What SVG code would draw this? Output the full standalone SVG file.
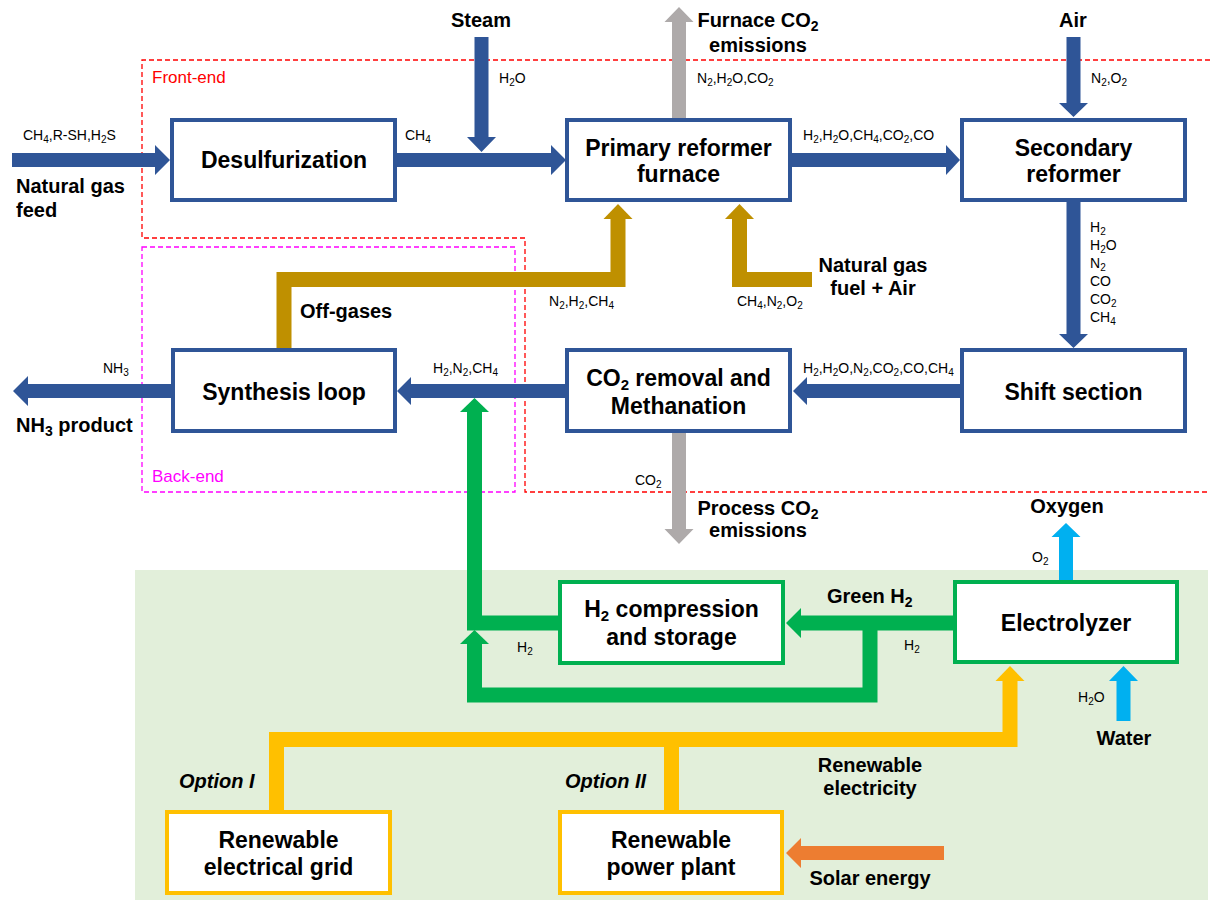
<svg xmlns="http://www.w3.org/2000/svg" width="1210" height="901" viewBox="0 0 1210 901">
<style>
text{font-family:"Liberation Sans",Arial,sans-serif;fill:#000}
.n{font-size:23px;font-weight:bold;text-anchor:middle}
.l{font-size:20px;font-weight:bold}
.m{text-anchor:middle}
.s{font-size:14px}
.it{font-style:italic}
.bb{fill:#fff;stroke:#2F5597;stroke-width:4}
.gb{fill:#fff;stroke:#00B050;stroke-width:4}
.yb{fill:#fff;stroke:#FFC000;stroke-width:4}
.blue{fill:#2F5597}
.gray{fill:#AEAAAA}
.gold{fill:#BF9000}
.goldl{fill:none;stroke:#BF9000;stroke-width:15;stroke-linejoin:miter}
.green{fill:#00B050}
.greenl{fill:none;stroke:#00B050;stroke-width:15;stroke-linejoin:miter}
.yel{fill:#FFC000}
.yell{fill:none;stroke:#FFC000;stroke-width:15;stroke-linejoin:miter}
.lb{fill:#00B0F0}
.or{fill:#ED7D31}
</style>
<rect width="1210" height="901" fill="#fff"/>
<rect x="135" y="570" width="1073" height="330" fill="#E2EFDA"/>
<g id="regions">
<path d="M1210,60 H142 V238 H525 V492 H1210" fill="none" stroke="#FF0000" stroke-width="1.3" stroke-dasharray="5,3"/>
<rect x="142" y="247" width="373" height="245" fill="none" stroke="#FF00FF" stroke-width="1.3" stroke-dasharray="5,3"/>
<text x="152" y="83" font-size="17" style="fill:#FF0000">Front-end</text>
<text x="152" y="482" font-size="17" style="fill:#FF00FF">Back-end</text>
</g>
<g id="connectors">
<polygon class="blue" points="12,153 155,153 155,145 170,160 155,175 155,167 12,167"/>
<polygon class="blue" points="397,153 551,153 551,145 566,160 551,175 551,167 397,167"/>
<polygon class="blue" points="792,153 946,153 946,145 960,160 946,175 946,167 792,167"/>
<polygon class="blue" points="474.5,37 488.5,37 488.5,137 496,137 481.5,152 467,137 474.5,137"/>
<polygon class="blue" points="1066.5,37 1080.5,37 1080.5,103 1088,103 1073.5,117 1059,103 1066.5,103"/>
<polygon class="blue" points="1066.5,202 1080.5,202 1080.5,334 1088,334 1073.5,348 1059,334 1066.5,334"/>
<polygon class="blue" points="960,384 807,384 807,377 793,391 807,405 807,398 960,398"/>
<polygon class="blue" points="566,384 411,384 411,377 397,391 411,405 411,398 566,398"/>
<polygon class="blue" points="171,384 28,384 28,376 13,391 28,406 28,398 171,398"/>
<polygon class="gray" points="672,118 686,118 686,22 693.5,22 679,7 664.5,22 672,22"/>
<polygon class="gray" points="672,433 686,433 686,529 693.5,529 679,544 664.5,529 672,529"/>
<polyline class="goldl" points="284,349 284,279.5 618,279.5 618,218"/>
<polygon class="gold" points="603.5,219 632.5,219 618,204"/>
<polyline class="goldl" points="812,279.5 739.5,279.5 739.5,218"/>
<polygon class="gold" points="725,219 754,219 739.5,204"/>
<polygon class="green" points="953,615.5 801,615.5 801,608 786,623 801,638 801,630.5 953,630.5"/>
<polyline class="greenl" points="558,623 474.5,623 474.5,411"/>
<polygon class="green" points="460,412 489,412 474.5,398"/>
<polyline class="greenl" points="870,623 870,695 474.5,695 474.5,643"/>
<polygon class="green" points="460,644 489,644 474.5,630"/>
<polyline class="yell" points="276.5,810 276.5,739.5 1010,739.5 1010,680"/>
<line x1="671.5" y1="739.5" x2="671.5" y2="810" stroke="#FFC000" stroke-width="15"/>
<polygon class="yel" points="995.5,681 1024.5,681 1010,666"/>
<polygon class="lb" points="1059,580 1073,580 1073,537 1080.5,537 1066,523 1051.5,537 1059,537"/>
<polygon class="lb" points="1116.5,721 1130.5,721 1130.5,681 1138,681 1123.5,666 1109,681 1116.5,681"/>
<polygon class="or" points="944,846 801,846 801,838 786,853 801,868 801,860 944,860"/>
</g>
<g id="desulfurization">
<rect class="bb" x="172" y="120" width="223" height="80"/>
<text class="n" x="284" y="168">Desulfurization</text>
</g>
<g id="primary-reformer">
<rect class="bb" x="567" y="120" width="223" height="80"/>
<text class="n" x="678.5" y="156">Primary reformer</text>
<text class="n" x="678.5" y="182">furnace</text>
</g>
<g id="secondary-reformer">
<rect class="bb" x="962" y="120" width="223" height="80"/>
<text class="n" x="1073.5" y="156">Secondary</text>
<text class="n" x="1073.5" y="182">reformer</text>
</g>
<g id="synthesis-loop">
<rect class="bb" x="173" y="350" width="222" height="81"/>
<text class="n" x="284" y="400">Synthesis loop</text>
</g>
<g id="co2-removal">
<rect class="bb" x="567" y="350" width="223" height="81"/>
<text class="n" x="678.5" y="386">CO<tspan font-size="15" dy="4">2</tspan><tspan dy="-4"> removal and</tspan></text>
<text class="n" x="678.5" y="414">Methanation</text>
</g>
<g id="shift-section">
<rect class="bb" x="962" y="350" width="223" height="81"/>
<text class="n" x="1073.5" y="400">Shift section</text>
</g>
<g id="h2-compression">
<rect class="gb" x="560" y="582" width="223" height="81"/>
<text class="n" x="671.5" y="617">H<tspan font-size="15" dy="4">2</tspan><tspan dy="-4"> compression</tspan></text>
<text class="n" x="671.5" y="645">and storage</text>
</g>
<g id="electrolyzer">
<rect class="gb" x="955" y="582" width="222" height="80"/>
<text class="n" x="1066" y="631">Electrolyzer</text>
</g>
<g id="renewable-grid">
<rect class="yb" x="167" y="812" width="223" height="81"/>
<text class="n" x="278.5" y="848">Renewable</text>
<text class="n" x="278.5" y="875">electrical grid</text>
</g>
<g id="renewable-plant">
<rect class="yb" x="560" y="812" width="222" height="81"/>
<text class="n" x="671" y="848">Renewable</text>
<text class="n" x="671" y="875">power plant</text>
</g>
<g id="labels">
<text class="s" x="23" y="140">CH<tspan font-size="10" dy="3">4</tspan><tspan dy="-3">,R-SH,H</tspan><tspan font-size="10" dy="3">2</tspan><tspan dy="-3">S</tspan></text>
<text class="s" x="405" y="140">CH<tspan font-size="10" dy="3">4</tspan></text>
<text class="s" x="499" y="83">H<tspan font-size="10" dy="3">2</tspan><tspan dy="-3">O</tspan></text>
<text class="s" x="697" y="83">N<tspan font-size="10" dy="3">2</tspan><tspan dy="-3">,H</tspan><tspan font-size="10" dy="3">2</tspan><tspan dy="-3">O,CO</tspan><tspan font-size="10" dy="3">2</tspan></text>
<text class="s" x="803" y="140">H<tspan font-size="10" dy="3">2</tspan><tspan dy="-3">,H</tspan><tspan font-size="10" dy="3">2</tspan><tspan dy="-3">O,CH</tspan><tspan font-size="10" dy="3">4</tspan><tspan dy="-3">,CO</tspan><tspan font-size="10" dy="3">2</tspan><tspan dy="-3">,CO</tspan></text>
<text class="s" x="1091" y="83">N<tspan font-size="10" dy="3">2</tspan><tspan dy="-3">,O</tspan><tspan font-size="10" dy="3">2</tspan></text>
<text class="s" x="1090" y="232">H<tspan font-size="10" dy="3">2</tspan></text>
<text class="s" x="1090" y="250">H<tspan font-size="10" dy="3">2</tspan><tspan dy="-3">O</tspan></text>
<text class="s" x="1090" y="268">N<tspan font-size="10" dy="3">2</tspan></text>
<text class="s" x="1090" y="286">CO</text>
<text class="s" x="1090" y="304">CO<tspan font-size="10" dy="3">2</tspan></text>
<text class="s" x="1090" y="322">CH<tspan font-size="10" dy="3">4</tspan></text>
<text class="s" x="549" y="306">N<tspan font-size="10" dy="3">2</tspan><tspan dy="-3">,H</tspan><tspan font-size="10" dy="3">2</tspan><tspan dy="-3">,CH</tspan><tspan font-size="10" dy="3">4</tspan></text>
<text class="s" x="737" y="306">CH<tspan font-size="10" dy="3">4</tspan><tspan dy="-3">,N</tspan><tspan font-size="10" dy="3">2</tspan><tspan dy="-3">,O</tspan><tspan font-size="10" dy="3">2</tspan></text>
<text class="s" x="103" y="373">NH<tspan font-size="10" dy="3">3</tspan></text>
<text class="s" x="433" y="373">H<tspan font-size="10" dy="3">2</tspan><tspan dy="-3">,N</tspan><tspan font-size="10" dy="3">2</tspan><tspan dy="-3">,CH</tspan><tspan font-size="10" dy="3">4</tspan></text>
<text class="s" x="803" y="373">H<tspan font-size="10" dy="3">2</tspan><tspan dy="-3">,H</tspan><tspan font-size="10" dy="3">2</tspan><tspan dy="-3">O,N</tspan><tspan font-size="10" dy="3">2</tspan><tspan dy="-3">,CO</tspan><tspan font-size="10" dy="3">2</tspan><tspan dy="-3">,CO,CH</tspan><tspan font-size="10" dy="3">4</tspan></text>
<text class="s" x="635" y="485">CO<tspan font-size="10" dy="3">2</tspan></text>
<text class="s" x="1032" y="562">O<tspan font-size="10" dy="3">2</tspan></text>
<text class="s" x="517" y="652">H<tspan font-size="10" dy="3">2</tspan></text>
<text class="s" x="904" y="650">H<tspan font-size="10" dy="3">2</tspan></text>
<text class="s" x="1078" y="702">H<tspan font-size="10" dy="3">2</tspan><tspan dy="-3">O</tspan></text>
<text class="l" x="16" y="193">Natural gas</text>
<text class="l" x="16" y="217">feed</text>
<text class="l m" x="481" y="27">Steam</text>
<text class="l m" x="758" y="27">Furnace CO<tspan font-size="14" dy="4">2</tspan></text>
<text class="l m" x="758" y="52">emissions</text>
<text class="l m" x="1073" y="27">Air</text>
<text class="l m" x="873" y="272">Natural gas</text>
<text class="l m" x="873" y="295">fuel + Air</text>
<text class="l" x="300" y="318">Off-gases</text>
<text class="l" x="16" y="432">NH<tspan font-size="14" dy="4">3</tspan><tspan dy="-4"> product</tspan></text>
<text class="l m" x="758" y="515">Process CO<tspan font-size="14" dy="4">2</tspan></text>
<text class="l m" x="758" y="537">emissions</text>
<text class="l m" x="1067" y="513">Oxygen</text>
<text class="l" x="827" y="603">Green H<tspan font-size="14" dy="4">2</tspan></text>
<text class="l m" x="1124" y="745">Water</text>
<text class="l m" x="870" y="772">Renewable</text>
<text class="l m" x="870" y="795">electricity</text>
<text class="l it" x="179" y="788">Option I</text>
<text class="l it" x="565" y="788">Option II</text>
<text class="l m" x="870" y="885">Solar energy</text>
</g>
</svg>
